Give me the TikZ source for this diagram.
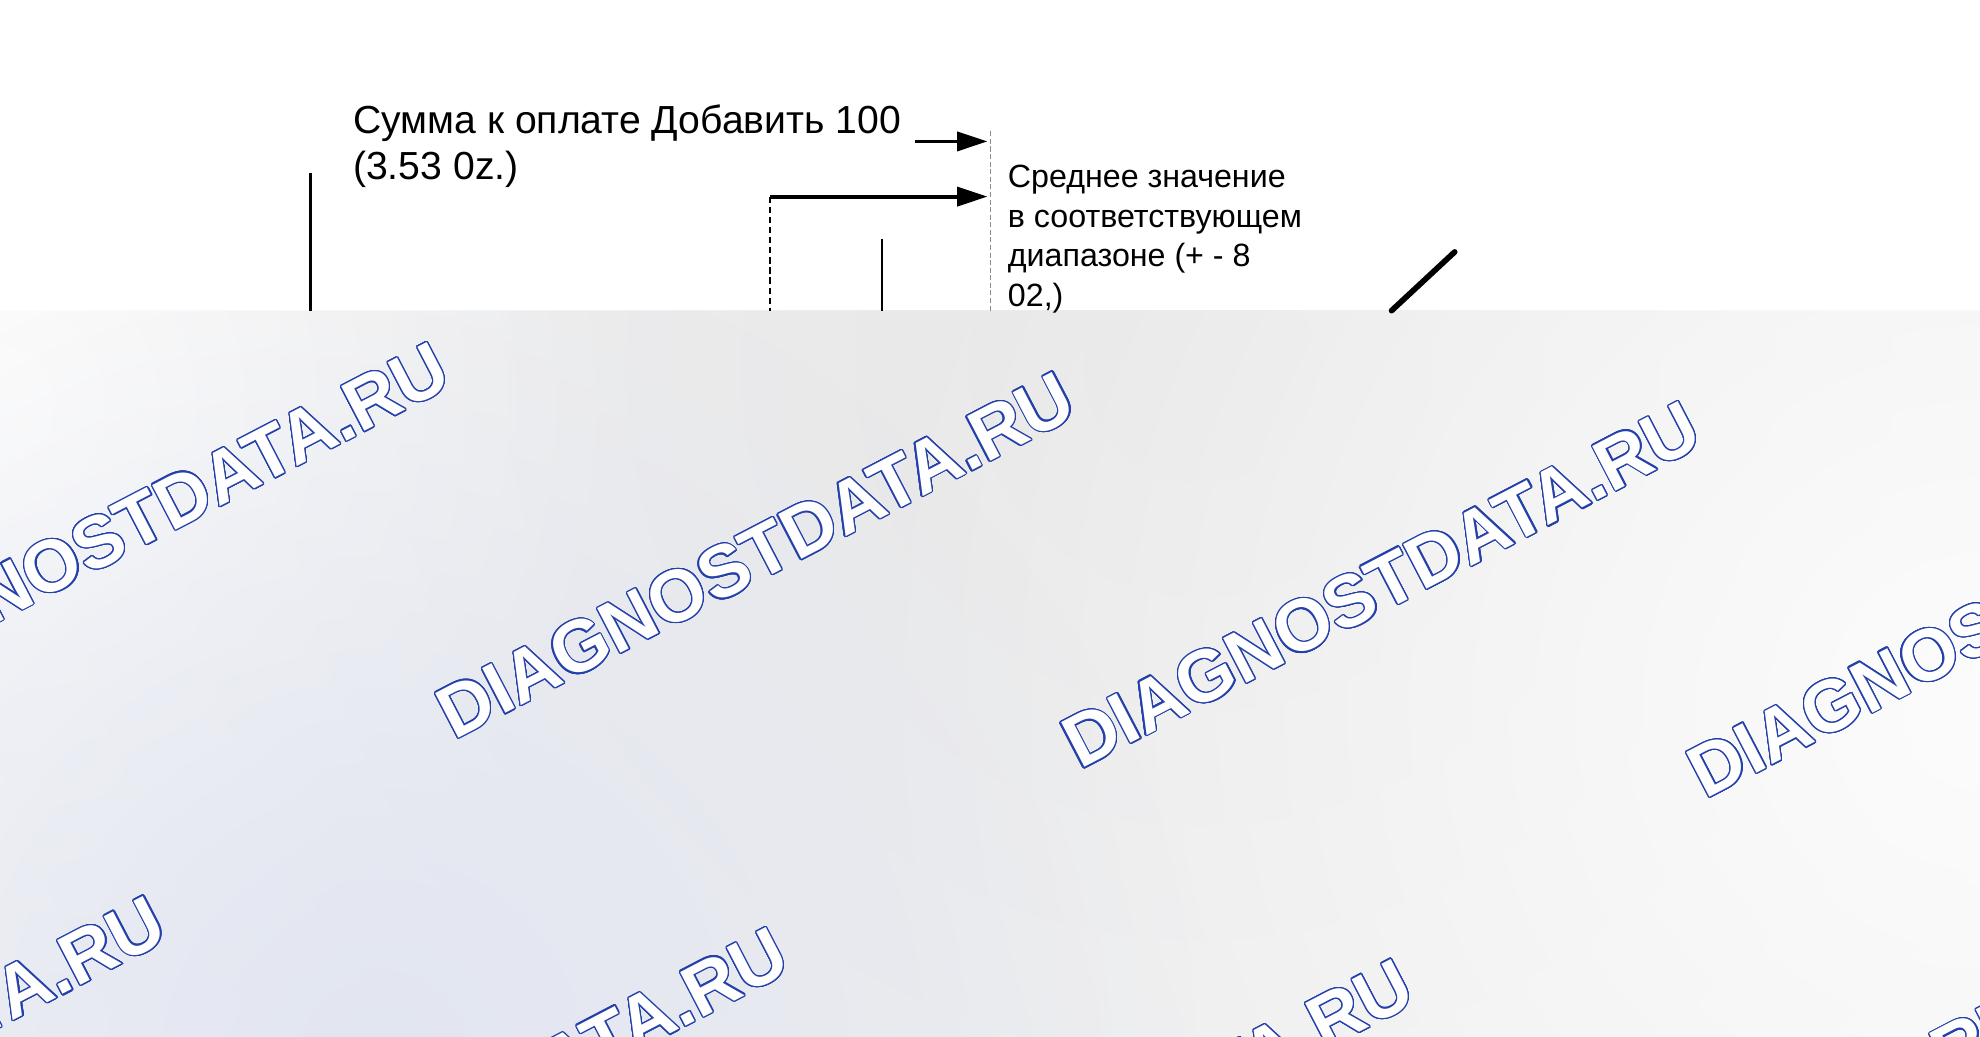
\documentclass[tikz,border=0pt]{standalone}
\usepackage{fontspec}
\setmainfont{Liberation Sans}
\usepackage[copies]{contour}
\usetikzlibrary{arrows.meta,fadings}
\tikzfading[name=blobfade, inner color=transparent!0, outer color=transparent!100]
\definecolor{wmblue}{RGB}{36,64,170}
\definecolor{bgbase}{RGB}{242,242,243}
\definecolor{bggrey}{RGB}{231,231,231}
\definecolor{bgwhite}{RGB}{252,252,252}
\definecolor{bgblue}{RGB}{226,230,242}
\definecolor{dashgrey}{RGB}{140,140,140}
\contourlength{1pt}
\contournumber{24}
\newcommand{\wmtext}{\contour{wmblue}{\textcolor{white}{DIAGNOSTDATA.RU}}}
\tikzset{
  lbl/.style={inner sep=0pt, anchor=north west, align=left},
  bigtxt/.style={font=\fontsize{31}{36.5}\selectfont},
  smalltxt/.style={font=\fontsize{25.5}{31.3}\selectfont},
  arr/.style={line width=3pt, -{Triangle[length=24pt,width=15pt]}},
  solidline/.style={line width=2.4pt},
  dashline/.style={line width=1.2pt, dash pattern=on 5pt off 3pt},
  fineline/.style={line width=0.8pt, dashgrey, dash pattern=on 4pt off 2pt},
  slashline/.style={line width=4.5pt, line cap=round},
  wm/.style={inner sep=0pt, rotate=27.5, font=\fontsize{58}{58}\selectfont\bfseries},
}
\begin{document}
\begin{tikzpicture}[x=1pt,y=-1pt]
\useasboundingbox (0,0) rectangle (1568,821.2);
\fill[white] (0,0) rectangle (1568,821.2);
% grey band with soft gradient
\begin{scope}
\clip (0,246) rectangle (1568,821.2);
\fill[bgbase] (0,246) rectangle (1568,821.2);
\fill[bggrey, path fading=blobfade] (950,290) circle (1000pt);
\fill[bgwhite, path fading=blobfade] (1568,560) circle (900pt);
\fill[bgwhite, path fading=blobfade] (0,320) circle (500pt);
\fill[bgblue, path fading=blobfade] (300,840) circle (650pt);
% watermarks
\node[wm] (w1) at (103,416.5) {\wmtext};
\node[wm] (w2) at (598.5,440) {\wmtext};
\node[wm] (w3) at (1094,463.5) {\wmtext};
\node[wm] (w4) at (1589.5,487) {\wmtext};
\node[wm] (w5) at (-121.5,855) {\wmtext};
\node[wm] (w6) at (371.5,880) {\wmtext};
\node[wm] (w7) at (866.5,905) {\wmtext};
\node[wm] (w8) at (1361,929) {\wmtext};
\end{scope}
% labels
\node[lbl,bigtxt] (sum) at (279.5,82.5) {Сумма к оплате Добавить 100\\(3.53 0z.)};
\node[lbl,smalltxt] (avg) at (798,130.5) {Среднее значение\\в соответствующем\\диапазоне (+ - 8\\02,)};
% coordinates
\coordinate (a1s) at (724.8,112);
\coordinate (a1e) at (782,112);
\coordinate (a2s) at (609.8,155.7);
\coordinate (a2e) at (782,155.7);
\coordinate (a2b) at (609.8,246);
\coordinate (vrt) at (784,104);
\coordinate (vrb) at (784,246);
\coordinate (lt) at (246,137);
\coordinate (lb) at (246,246);
\coordinate (mt) at (698.5,189);
\coordinate (mb) at (698.5,246);
\coordinate (st) at (1152,199.5);
\coordinate (sb) at (1102,246);
% connectors and lines
\draw[fineline] (vrt) -- (vrb);
\draw[arr] (a1s) -- (a1e);
\draw[arr] (a2s) -- (a2e);
\draw[dashline] (a2s) -- (a2b);
\draw[solidline] (lt) -- (lb);
\draw[solidline, line width=2pt] (mt) -- (mb);
\draw[slashline] (st) -- (sb);
\end{tikzpicture}
\end{document}
